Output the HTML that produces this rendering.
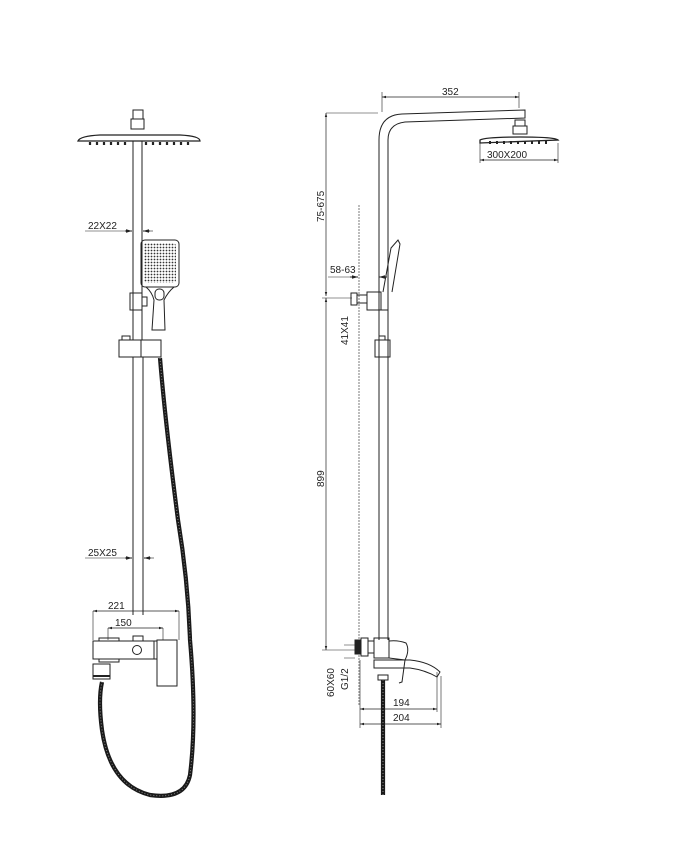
<!DOCTYPE html>
<html><head><meta charset="utf-8"><style>html,body{margin:0;padding:0;background:#fff}svg{display:block}text{font-family:"Liberation Sans",sans-serif;font-size:10px;fill:#222}</style></head><body>
<svg width="673" height="845" viewBox="0 0 673 845" xmlns="http://www.w3.org/2000/svg">
<defs>
<pattern id="dots" width="3" height="3" patternUnits="userSpaceOnUse"><rect width="3" height="3" fill="#fff"/><circle cx="1.5" cy="1.5" r="0.9" fill="#333"/></pattern>
<marker id="ar" viewBox="0 0 10 10" refX="10" refY="5" markerWidth="6" markerHeight="6" orient="auto-start-reverse"><path d="M0,2L10,5L0,8z" fill="#222"/></marker>
</defs>
<g fill="none" stroke="#222" stroke-width="1">
<rect x="133" y="110" width="10" height="9"/>
<rect x="131" y="119" width="13" height="10"/>
<path d="M78,141 Q80,136 100,135 L180,135 Q200,136 200,141 L78,141z" stroke-width="1.3"/>
<g stroke-width="2.2"><path d="M90,142v3M97,142v3M104,142v3M111,142v3M118,142v3M125,142v3M146,142v3M153,142v3M160,142v3M167,142v3M174,142v3M181,142v3M188,142v3"/></g>
<path d="M133,141V340M142,141V340"/>
<path d="M133,357V615M143,357V615"/>
<path d="M85,231H132" stroke-width="0.6"/><path d="M125,231h7" marker-end="url(#ar)"/><path d="M150,231h-7" marker-end="url(#ar)"/><path d="M143,231h10" stroke-width="0.6"/>
<rect x="141" y="240" width="38" height="47" rx="4"/>
<rect x="144" y="243" width="32" height="40" rx="3" fill="url(#dots)" stroke="none"/>
<path d="M146,287 Q152,292 154,300 L152,330 L165,330 L164,300 Q168,292 174,287"/>
<rect x="155" y="289" width="9" height="11" rx="4"/>
<rect x="130" y="293" width="12" height="17"/><path d="M142,297h5v9h-5"/>
<rect x="119" y="340" width="42" height="17"/><path d="M141,340v17"/><rect x="122" y="336" width="8" height="4"/>
<path d="M85,558H132" stroke-width="0.6"/><path d="M125,558h7" marker-end="url(#ar)"/><path d="M151,558h-7" marker-end="url(#ar)"/><path d="M144,558h10" stroke-width="0.6"/>
<path d="M93,611V640M179,611V640M108,628V640M163,628V640" stroke-width="0.6"/>
<path d="M93,611H179" marker-start="url(#ar)" marker-end="url(#ar)" stroke-width="0.7"/>
<path d="M108,628H163" marker-start="url(#ar)" marker-end="url(#ar)" stroke-width="0.7"/>
<rect x="133" y="636" width="10" height="5"/>
<rect x="93" y="641" width="64" height="18"/>
<path d="M99,641v-3h20v3M99,659v3h20v-3"/>
<circle cx="137" cy="650" r="4.5"/>
<rect x="157" y="640" width="20" height="46"/><path d="M157,659h-3v-18h3"/>
<rect x="93" y="664" width="17" height="15"/><path d="M93,676h17" stroke-width="2"/>
<g stroke="#1a1a1a" stroke-width="4.2">
<path d="M160,358 Q165,420 178,520 Q188,580 190,640 Q197,720 190,775 Q185,800 150,795 Q110,785 102,730 Q98,700 102,682"/>
<path d="M383,680V795"/>
</g>
<g stroke="#888" stroke-width="1" stroke-dasharray="1 2">
<path d="M160,358 Q165,420 178,520 Q188,580 190,640 Q197,720 190,775 Q185,800 150,795 Q110,785 102,730 Q98,700 102,682"/>
<path d="M383,680V795"/>
</g>
<path d="M379,640V140 Q379,115 402,114 L525,110 V118 L405,122 Q388,124 388,140 V640"/>
<rect x="515" y="120" width="10" height="6"/><rect x="513" y="126" width="14" height="8"/>
<path d="M480,140 Q485,137 520,137 Q555,137 558,140 L480,143z" stroke-width="1.3"/>
<g stroke-width="2"><path d="M490,141v3M497,141v3M504,141v3M511,141v3M518,141v3M525,141v3M532,141v3M539,141v3M546,141v3"/></g>
<path d="M480,143V163M558,143V163" stroke-width="0.6"/>
<path d="M480,160H558" marker-start="url(#ar)" marker-end="url(#ar)" stroke-width="0.7"/>
<path d="M382,92V112M519,92V108" stroke-width="0.6"/>
<path d="M382,97H519" marker-start="url(#ar)" marker-end="url(#ar)" stroke-width="0.7"/>
<path d="M326,113H378" stroke-width="0.6"/>
<path d="M326,113V296" marker-start="url(#ar)" marker-end="url(#ar)" stroke-width="0.7"/>
<path d="M326,298V650" marker-start="url(#ar)" marker-end="url(#ar)" stroke-width="0.7"/>
<path d="M322,298H352M322,650H355" stroke-width="0.6"/>
<path d="M359,205V705" stroke="#999" stroke-width="1.3" stroke-dasharray="2 1"/>
<path d="M328,277H358" stroke-width="0.6"/><path d="M350,277h8" marker-end="url(#ar)"/><path d="M387,277h-8" marker-end="url(#ar)"/>
<path d="M383,292 L391,248 L398,240 L400,244 L392,292"/>
<rect x="351" y="293" width="6" height="12"/><rect x="357" y="295" width="10" height="8"/><rect x="367" y="292" width="14" height="18"/>
<path d="M380,310h8" />
<rect x="375" y="340" width="15" height="17"/><rect x="379" y="336" width="6" height="4"/>
<rect x="355" y="640" width="6" height="14" fill="#222"/>
<rect x="361" y="638" width="7" height="18"/><rect x="368" y="641" width="6" height="12"/>
<rect x="374" y="638" width="15" height="20"/>
<path d="M389,641 Q398,640 406,643 Q410,650 405,660 L389,658"/>
<path d="M374,660 H410 Q430,662 440,672 L437,677 Q425,670 410,668 H374z"/>
<path d="M405,660 L402,682 L399,683"/>
<rect x="378" y="675" width="10" height="5"/>
<path d="M344,645H355M344,658H355" stroke-width="0.6"/>
<path d="M360,660V728M437,672V712M441,676V728" stroke-width="0.6"/>
<path d="M360,709H437" marker-start="url(#ar)" marker-end="url(#ar)" stroke-width="0.7"/>
<path d="M360,724H441" marker-start="url(#ar)" marker-end="url(#ar)" stroke-width="0.7"/>
</g>
<text x="88" y="229">22X22</text>
<text x="88" y="556">25X25</text>
<text x="108" y="609">221</text>
<text x="115" y="626">150</text>
<text x="442" y="95">352</text>
<text x="487" y="158">300X200</text>
<text x="330" y="273">58-63</text>
<text x="393" y="706">194</text>
<text x="393" y="721">204</text>
<text transform="translate(324,222) rotate(-90)">75-675</text>
<text transform="translate(348,345) rotate(-90)">41X41</text>
<text transform="translate(324,487) rotate(-90)">899</text>
<text transform="translate(334,697) rotate(-90)">60X60</text>
<text transform="translate(348,690) rotate(-90)">G1/2</text>
</svg>
</body></html>
